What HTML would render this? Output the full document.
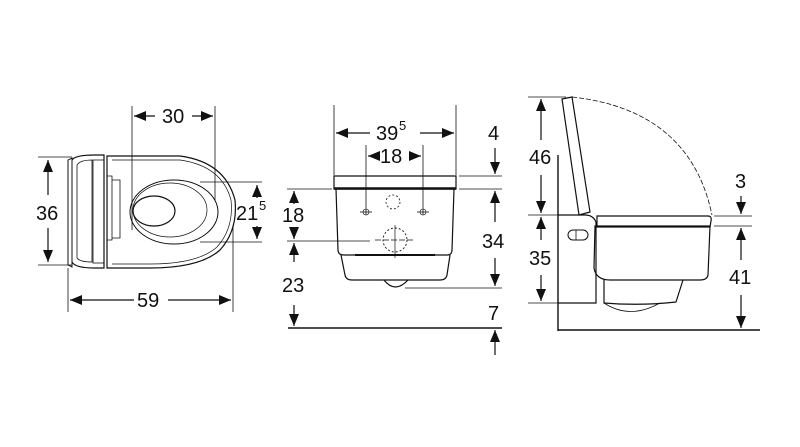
<!DOCTYPE html>
<html><head><meta charset="utf-8"><style>
html,body{margin:0;padding:0;background:#fff;}
svg{display:block;}
text{font-family:"Liberation Sans",sans-serif;font-size:20px;fill:#111;}
.s{font-size:13px;}
</style></head><body>
<svg width="800" height="447" viewBox="0 0 800 447" xmlns="http://www.w3.org/2000/svg">
<defs>
<marker id="a" viewBox="0 0 12 10" refX="12" refY="5" markerWidth="12" markerHeight="10" markerUnits="userSpaceOnUse" orient="auto-start-reverse"><path d="M0,0 L12,5 L0,10z" fill="#111"/></marker>
</defs>
<g stroke="#111" fill="none" stroke-width="1.2">
<!-- LEFT VIEW -->
<line x1="38" y1="157" x2="72" y2="157" stroke-width="0.8"/>
<line x1="38" y1="265" x2="72" y2="265" stroke-width="0.8"/>
<line x1="48" y1="160" x2="48" y2="195" marker-start="url(#a)"/>
<line x1="48" y1="228" x2="48" y2="262" marker-end="url(#a)"/>
<path d="M68,160 L68,265 L72,267 L72,158 Z" stroke-width="1"/>
<path d="M72,160 Q75,155 95,155 L104,155 L104,268 L95,268 Q75,268 72,262" />
<path d="M77,165 Q80,160 92,160 L92,262 Q80,262 77,258 Z" stroke-width="0.8"/>
<rect x="93" y="160" width="11" height="103" stroke-width="0.8"/>
<path d="M107,156 L180,156 Q225,162 235,200 Q238,230 220,250 Q200,268 150,268 L107,268 Z"/>
<path d="M112,160 L180,160 Q222,166 231,200 Q234,228 217,247 Q198,264 150,264 L112,264" stroke-width="0.7"/>
<path d="M107,176 L112,176 L112,240 L107,240" stroke-width="0.8"/>
<path d="M112,180 L120,180 L120,238 L112,238" stroke-width="0.8"/>
<ellipse cx="174" cy="212" rx="44" ry="32" stroke-width="1"/>
<ellipse cx="170" cy="210" rx="37" ry="27" stroke-width="0.7"/>
<ellipse cx="154" cy="211" rx="21" ry="15"/>
<line x1="132" y1="106" x2="132" y2="230" stroke-width="0.8"/>
<line x1="215" y1="106" x2="215" y2="200" stroke-width="0.8"/>
<line x1="134" y1="116" x2="155" y2="116" marker-start="url(#a)"/>
<line x1="192" y1="116" x2="213" y2="116" marker-end="url(#a)"/>
<line x1="200" y1="182" x2="262" y2="182" stroke-width="0.8"/>
<line x1="200" y1="242" x2="262" y2="242" stroke-width="0.8"/>
<line x1="257" y1="185" x2="257" y2="198" marker-start="url(#a)"/>
<line x1="257" y1="226" x2="257" y2="239" marker-end="url(#a)"/>
<line x1="68" y1="268" x2="68" y2="312" stroke-width="0.8"/>
<line x1="233" y1="225" x2="233" y2="312" stroke-width="0.8"/>
<line x1="70" y1="300" x2="134" y2="300" marker-start="url(#a)"/>
<line x1="168" y1="300" x2="231" y2="300" marker-end="url(#a)"/>

<!-- MIDDLE VIEW -->
<line x1="334" y1="105" x2="334" y2="175" stroke-width="0.8"/>
<line x1="456" y1="105" x2="456" y2="175" stroke-width="0.8"/>
<line x1="336" y1="133" x2="370" y2="133" marker-start="url(#a)"/>
<line x1="420" y1="133" x2="454" y2="133" marker-end="url(#a)"/>
<line x1="366" y1="145" x2="366" y2="215" stroke-width="0.8"/>
<line x1="423" y1="145" x2="423" y2="215" stroke-width="0.8"/>
<line x1="368" y1="156" x2="380" y2="156" marker-start="url(#a)"/>
<line x1="409" y1="156" x2="421" y2="156" marker-end="url(#a)"/>
<path d="M334,176 L456,176 L456,189 L334,189 Z"/>
<line x1="334" y1="188.5" x2="456" y2="188.5" stroke-width="2.5"/>
<path d="M336,189 L338,250 Q338,255 344,255 L447,255 Q452,255 452,250 L454,189"/>
<line x1="355" y1="255" x2="435" y2="255" stroke-width="2"/>
<path d="M341,255 L345,275 Q346,280 352,280 L440,280 Q446,280 447,275 L450,255"/>
<path d="M384,280 Q395,294 408,280"/>
<circle cx="393" cy="202" r="7" stroke-dasharray="2,2" stroke-width="0.8"/>
<circle cx="395" cy="240" r="12" stroke-dasharray="2,2" stroke-width="0.9"/>
<line x1="375" y1="240" x2="415" y2="240" stroke-width="0.7" stroke-dasharray="6,2"/>
<line x1="395" y1="225" x2="395" y2="258" stroke-width="0.7"/>
<line x1="360" y1="212" x2="372" y2="212" stroke-width="0.8"/>
<line x1="417" y1="212" x2="429" y2="212" stroke-width="0.8"/>
<circle cx="366" cy="212" r="3" stroke-width="0.6"/>
<circle cx="423" cy="212" r="3" stroke-width="0.6"/>
<line x1="287" y1="189" x2="332" y2="189" stroke-width="0.8"/>
<line x1="459" y1="189" x2="502" y2="189" stroke-width="0.8"/>
<line x1="459" y1="176" x2="502" y2="176" stroke-width="0.8"/>
<line x1="287" y1="241" x2="370" y2="241" stroke-width="0.8"/>
<line x1="405" y1="288" x2="502" y2="288" stroke-width="0.8"/>
<line x1="294" y1="191" x2="294" y2="204" marker-start="url(#a)"/>
<line x1="294" y1="228" x2="294" y2="239" marker-end="url(#a)"/>
<line x1="294" y1="243" x2="294" y2="262" marker-start="url(#a)"/>
<line x1="294" y1="305" x2="294" y2="326" marker-end="url(#a)"/>
<line x1="288" y1="328" x2="502" y2="328" stroke-width="1.6"/>
<line x1="495" y1="148" x2="495" y2="174" marker-end="url(#a)"/>
<line x1="495" y1="191" x2="495" y2="222" marker-start="url(#a)"/>
<line x1="495" y1="258" x2="495" y2="286" marker-end="url(#a)"/>
<line x1="495" y1="330" x2="495" y2="355" marker-start="url(#a)"/>

<!-- RIGHT VIEW -->
<line x1="528" y1="97" x2="566" y2="97" stroke-width="0.8"/>
<line x1="528" y1="215" x2="560" y2="215" stroke-width="0.8"/>
<line x1="528" y1="303" x2="558" y2="303" stroke-width="0.8"/>
<line x1="541" y1="99" x2="541" y2="140" marker-start="url(#a)"/>
<line x1="541" y1="175" x2="541" y2="213" marker-end="url(#a)"/>
<line x1="541" y1="217" x2="541" y2="240" marker-start="url(#a)"/>
<line x1="541" y1="275" x2="541" y2="301" marker-end="url(#a)"/>
<line x1="558" y1="155" x2="558" y2="331" stroke-width="1.4"/>
<line x1="558" y1="330" x2="760" y2="330" stroke-width="1.4"/>
<path d="M562,99 L572,97 L590,212 L579,215 Z"/>
<path d="M572,97 Q690,110 712,215" stroke-dasharray="5,2" stroke-width="0.8"/>
<path d="M558,215 L585,215 Q593,215 596,222 L596,303 L558,303"/>
<path d="M597,216 L708,216 Q712,216 711,221 L710,227 L597,227 Z"/>
<path d="M595,226 L710,226 L708,275 Q707,280 700,280 L610,280 Q596,280 594,268 Z"/>
<path d="M604,280 L604,303 Q640,306 676,302 L683,280"/>
<path d="M604,303 Q630,320 660,303" stroke-width="0.8"/>
<rect x="568" y="230" width="20" height="10" rx="5" stroke-width="1"/>
<line x1="576" y1="230" x2="576" y2="240" stroke-width="0.8"/>
<line x1="714" y1="216" x2="752" y2="216" stroke-width="0.8"/>
<line x1="714" y1="226" x2="752" y2="226" stroke-width="0.8"/>
<line x1="741" y1="196" x2="741" y2="214" marker-end="url(#a)"/>
<line x1="741" y1="228" x2="741" y2="260" marker-start="url(#a)"/>
<line x1="741" y1="295" x2="741" y2="328" marker-end="url(#a)"/>
</g>
<g>
<text x="36" y="220">36</text>
<text x="162" y="123">30</text>
<text x="236" y="220">21</text><text class="s" x="259" y="210">5</text>
<text x="137" y="307">59</text>
<text x="376" y="140">39</text><text class="s" x="399" y="130">5</text>
<text x="380" y="163">18</text>
<text x="488" y="140">4</text>
<text x="282" y="222">18</text>
<text x="282" y="292">23</text>
<text x="482" y="248">34</text>
<text x="488" y="320">7</text>
<text x="529" y="164">46</text>
<text x="529" y="265">35</text>
<text x="735" y="188">3</text>
<text x="729" y="284">41</text>
</g>
</svg>
</body></html>
